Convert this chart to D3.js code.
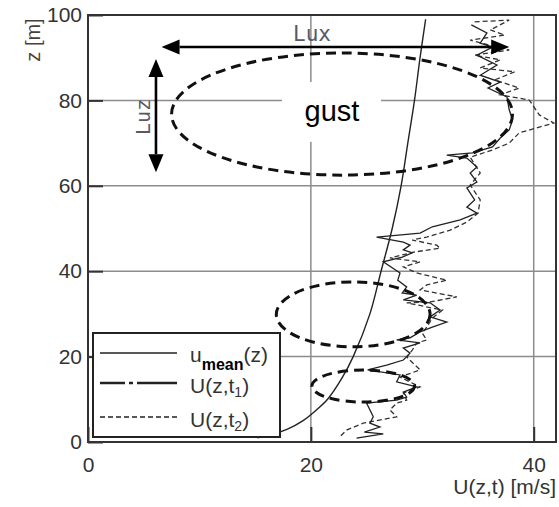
<!DOCTYPE html>
<html><head><meta charset="utf-8">
<script src="https://cdn.jsdelivr.net/npm/d3@7"></script>
<style>
html,body{margin:0;padding:0;background:#fff;}
svg{display:block;font-family:"Liberation Sans",Arial,sans-serif;}
</style></head>
<body>
<svg id="chart" width="559" height="507"></svg>
<script>
// ---- data ----
const xTicks = [0, 20, 40];
const yTicks = [0, 20, 40, 60, 80, 100];
const gridX = [20, 40];
const gridY = [20, 40, 60, 80];

const meanZ = [1, 2, 3, 5, 7.5, 10, 15, 20, 30, 40, 50, 60, 70, 80, 90, 99];
const meanU = [15.2, 16.8, 17.9, 19.3, 20.5, 21.5, 22.8, 23.8, 25.3, 26.3, 27.3, 28.1, 28.7, 29.3, 29.8, 30.3];

const t1Z = [97.7,95.8,93.4,92.5,90.6,88.3,85.9,84.3,82.9,80.8,77.8,75.4,73.1,71.2,69.1,67.7,67.2,66.5,64.4,63.0,60.9,59.5,56.7,55.0,53.6,52.0,50.4,48.9,48.0,46.8,46.1,45.0,44.3,43.3,42.2,39.6,37.9,36.3,34.9,34.4,33.3,32.6,30.9,29.3,28.1,26.9,25.8,24.4,23.9,23.2,22.0,20.8,19.2,18.0,16.9,15.7,14.1,12.9,11.7,10.5,9.8,9.1,5.9,4.4,3.5,2.3,1.9,0.9];
const t1U = [34.4,35.8,35.2,36.3,34.9,36.7,35.2,37.0,35.9,37.6,37.8,38.1,37.8,37.0,36.3,34.5,32.2,34.0,34.9,34.3,34.9,34.0,34.7,34.0,34.9,33.4,30.9,29.8,25.9,28.3,28.9,28.3,29.1,28.2,26.5,28.0,27.8,28.6,28.2,29.5,28.3,30.7,31.6,30.7,32.2,30.9,29.8,28.9,27.7,29.8,28.3,28.9,28.3,26.8,25.1,28.0,27.7,29.5,28.3,28.6,27.7,25.0,25.6,25.3,26.2,24.8,26.5,24.1];

const t2Z = [98.4,98.8,96.5,95.3,94.1,91.8,90.6,89.5,87.6,86.7,84.8,82.9,81.3,80.1,76.6,74.7,72.4,70.0,68.4,66.7,63.0,60.2,56.7,53.6,51.5,49.6,48.0,47.3,46.1,45.4,44.5,43.1,42.2,41.0,39.6,37.9,36.8,35.6,34.0,32.8,32.6,30.9,29.0,26.9,25.5,23.9,23.2,21.5,19.9,16.9,15.2,12.9,11.5,9.8,9.1,7.5,5.9,4.4,2.8,1.2];
const t2U = [34.7,37.8,36.1,37.4,34.3,37.8,34.7,37.0,35.2,38.3,36.5,38.7,37.0,39.6,40.5,41.8,38.7,37.8,36.3,34.3,35.2,34.3,35.2,35.0,34.0,32.5,30.4,29.1,31.3,31.6,29.3,27.1,29.8,28.3,29.5,32.2,30.4,29.8,33.1,30.7,28.6,31.8,30.9,30.4,30.0,30.4,29.5,29.1,28.6,29.8,28.0,29.8,28.3,28.6,27.7,27.1,27.7,24.7,23.2,22.6];

// gust eddies: [centre u, centre z, radius u, radius z]
const gustU  = [22.8, 23.8, 24.7];
const gustZ  = [76.8, 29.9, 13.1];
const gustRU = [15.3, 6.9, 4.6];
const gustRZ = [14.3, 7.6, 3.75];

const legendLabels = ["u", "U(z,t", "U(z,t"];
const xTitle = "U(z,t) [m/s]";
const yTitle = "z [m]";

// ---- layout ----
const L = 88, T = 15, W = 468, H = 427;
const x = d3.scaleLinear().domain([0, 42]).range([L, L + W]);
const y = d3.scaleLinear().domain([0, 100]).range([T + H, T]);

const svg = d3.select("#chart");
svg.append("defs").append("clipPath").attr("id", "clip")
  .append("rect").attr("x", L).attr("y", T).attr("width", W).attr("height", H);

// grid
const grid = svg.append("g").attr("stroke", "#8c8c8c").attr("stroke-width", 1.5);
grid.selectAll("line.gy").data(gridY).join("line")
  .attr("x1", L).attr("x2", L + W).attr("y1", d => y(d)).attr("y2", d => y(d));
grid.selectAll("line.gx").data(gridX).join("line")
  .attr("x1", d => x(d)).attr("x2", d => x(d)).attr("y1", T).attr("y2", T + H);

// white box behind "gust"
svg.append("rect").attr("x", x(17.4)).attr("y", y(84.3))
  .attr("width", x(26.3) - x(17.4)).attr("height", y(70.3) - y(84.3)).attr("fill", "#fff");

// axis ticks (inward)
const yAxis = d3.axisLeft(y).tickValues(yTicks).tickSize(-15).tickPadding(6).tickFormat(d3.format("d"));
const gy = svg.append("g").attr("transform", `translate(${L},0)`).call(yAxis);
gy.select(".domain").remove();
gy.selectAll(".tick line").attr("stroke", "#333").attr("stroke-width", 2);
gy.selectAll(".tick text").attr("font-size", 21).attr("fill", "#333")
  .attr("font-family", "Liberation Sans, Arial, sans-serif");

const xAxis = d3.axisBottom(x).tickValues(xTicks).tickSize(-15).tickPadding(30).tickFormat(d3.format("d"));
const gx = svg.append("g").attr("transform", `translate(0,${T + H})`).call(xAxis);
gx.select(".domain").remove();
gx.selectAll(".tick line").attr("stroke", "#333").attr("stroke-width", 2);
gx.selectAll(".tick text").attr("font-size", 21).attr("fill", "#333").attr("dy", 0)
  .attr("font-family", "Liberation Sans, Arial, sans-serif");

// lines
const plot = svg.append("g").attr("clip-path", "url(#clip)");
const meanData = meanZ.map((z, i) => [meanU[i], z]);
const t1Data = t1Z.map((z, i) => [t1U[i], z]);
const t2Data = t2Z.map((z, i) => [t2U[i], z]);

plot.append("path").datum(meanData)
  .attr("d", d3.line().x(d => x(d[0])).y(d => y(d[1])).curve(d3.curveCatmullRom))
  .attr("fill", "none").attr("stroke", "#222").attr("stroke-width", 1.4);
plot.append("path").datum(t2Data)
  .attr("d", d3.line().x(d => x(d[0])).y(d => y(d[1])))
  .attr("fill", "none").attr("stroke", "#333").attr("stroke-width", 1.3).attr("stroke-dasharray", "5,3");
plot.append("path").datum(t1Data)
  .attr("d", d3.line().x(d => x(d[0])).y(d => y(d[1])))
  .attr("fill", "none").attr("stroke", "#222").attr("stroke-width", 1.3);

// gust ellipses
plot.selectAll("ellipse").data(gustU).join("ellipse")
  .attr("cx", d => x(d)).attr("cy", (d, i) => y(gustZ[i]))
  .attr("rx", (d, i) => x(gustRU[i]) - x(0)).attr("ry", (d, i) => y(0) - y(gustRZ[i]))
  .attr("fill", "none").attr("stroke", "#111").attr("stroke-width", 3).attr("stroke-dasharray", "10,6");

// arrows
function arrow(x1, y1, x2, y2) {
  const g = svg.append("g");
  const dx = x2 - x1, dy = y2 - y1, len = Math.hypot(dx, dy);
  const ux = dx / len, uy = dy / len, hl = 18, hw = 7.5;
  g.append("line").attr("x1", x1 + ux * hl).attr("y1", y1 + uy * hl)
    .attr("x2", x2 - ux * hl).attr("y2", y2 - uy * hl)
    .attr("stroke", "#000").attr("stroke-width", 2.6);
  const head = (tx, ty, sx, sy) => {
    const bx = tx + sx * hl, by = ty + sy * hl;
    return `M${tx},${ty}L${bx - sy * hw},${by + sx * hw}L${bx + sy * hw},${by - sx * hw}Z`;
  };
  g.append("path").attr("d", head(x1, y1, ux, uy)).attr("fill", "#000");
  g.append("path").attr("d", head(x2, y2, -ux, -uy)).attr("fill", "#000");
}
arrow(x(6.6), y(92.5), x(37.8), y(92.5));
arrow(x(6.1), y(89.7), x(6.1), y(63.2));

// annotation text
svg.append("text").attr("x", x(20.1)).attr("y", 41).attr("text-anchor", "middle")
  .attr("font-family", "DejaVu Sans Mono, monospace").attr("font-size", 21).attr("fill", "#555a66")
  .text("Lux");
svg.append("text").attr("transform", `translate(143,117) rotate(-90)`).attr("text-anchor", "middle")
  .attr("dy", "0.36em")
  .attr("font-family", "DejaVu Sans Mono, monospace").attr("font-size", 20).attr("fill", "#555a66")
  .text("Luz");
svg.append("text").attr("x", x(21.9)).attr("y", 121).attr("text-anchor", "middle")
  .attr("font-size", 29).attr("fill", "#000").text("gust");

// axis titles
svg.append("text").attr("x", 556).attr("y", 494).attr("text-anchor", "end")
  .attr("font-size", 21).attr("fill", "#333").text(xTitle);
svg.append("text").attr("transform", "translate(33,40) rotate(-90)").attr("text-anchor", "middle")
  .attr("dy", "0.35em").attr("font-size", 20).attr("fill", "#4d3f36").text(yTitle);

// legend
const lg = svg.append("g");
lg.append("rect").attr("x", 93).attr("y", 333).attr("width", 187).attr("height", 104)
  .attr("fill", "#fff").attr("stroke", "#222").attr("stroke-width", 2);
const rowsY = [353, 383, 417];
const dashes = [null, "25,4,4,4,40", "5,3"];
const widths = [1.5, 2.6, 1.3];
rowsY.forEach((ry, i) => {
  lg.append("line").attr("x1", 100).attr("x2", 177).attr("y1", ry).attr("y2", ry)
    .attr("stroke", "#222").attr("stroke-width", widths[i])
    .attr("stroke-dasharray", dashes[i]);
});
const t0 = lg.append("text").attr("x", 190).attr("y", 362).attr("font-size", 21).attr("fill", "#333");
t0.append("tspan").text(legendLabels[0]);
t0.append("tspan").attr("dy", 8).attr("font-size", 16).attr("font-weight", "bold").attr("fill", "#000").text("mean");
t0.append("tspan").attr("dy", -8).text("(z)");
[1, 2].forEach(i => {
  const t = lg.append("text").attr("x", 190).attr("y", rowsY[i] + 10).attr("font-size", 21).attr("fill", "#333");
  t.append("tspan").text(legendLabels[i]);
  t.append("tspan").attr("dy", 4).attr("font-size", 14).text(String(i));
  t.append("tspan").attr("dy", -4).text(")");
});

// frame
svg.append("rect").attr("x", L).attr("y", T).attr("width", W).attr("height", H)
  .attr("fill", "none").attr("stroke", "#333").attr("stroke-width", 2);
</script>
</body></html>
